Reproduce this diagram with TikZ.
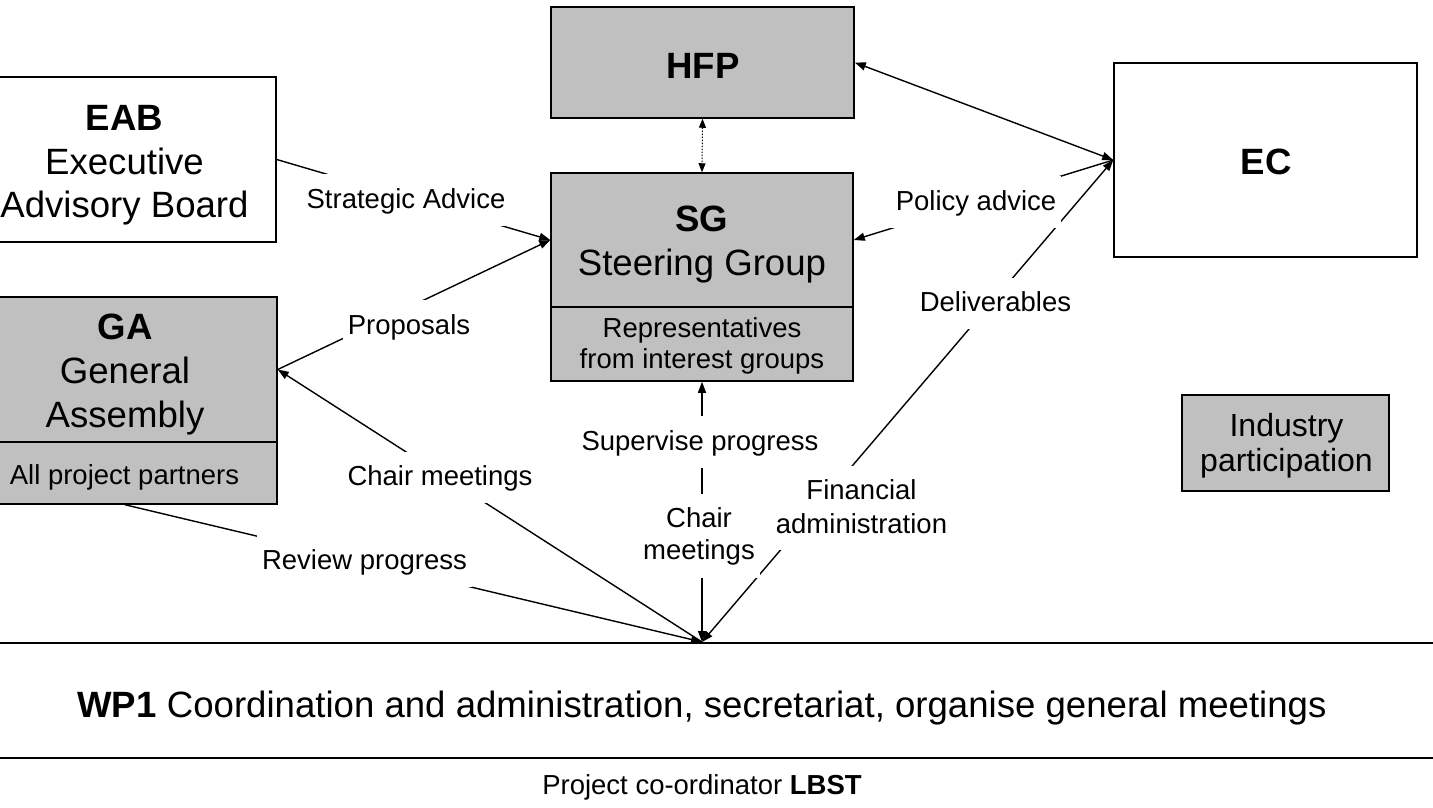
\documentclass[tikz,border=0pt]{standalone}
\usepackage{fontspec}
\setmainfont{Liberation Sans}
\usetikzlibrary{arrows.meta}
\definecolor{boxgray}{HTML}{C0C0C0}
\newcommand\fBig{\fontsize{36.6}{44}\selectfont}
\newcommand\fLbl{\fontsize{27.5}{32}\selectfont}
\newcommand\lstrut{\rule[-5pt]{0pt}{27pt}}
\begin{document}
\begin{tikzpicture}[x=1pt,y=-1pt,
  frame/.style={draw=black,line width=1.5pt,minimum width=303pt,inner sep=0pt},
  gframe/.style={frame,fill=boxgray},
  txt/.style={inner sep=0pt,align=center},
  lbl/.style={fill=white,inner xsep=5pt,inner ysep=12pt,align=center,font=\fLbl},
  conn/.style={line width=1.4pt},
  rulebar/.style={line width=2pt},
  >={Triangle[length=11pt,width=8pt]}
]
\useasboundingbox (0,0) rectangle (1433,807);
\clip (0,0) rectangle (1433,807);

% horizontal rules
\draw[rulebar] (0,643) -- (1433,643);
\draw[rulebar] (0,758) -- (1433,758);

% boxes
\node[frame, minimum height=165pt] (eab) at (124.5,159.5) {};
\node[gframe, minimum height=145pt, minimum width=304pt] (ga) at (125,369.5) {};
\node[gframe, minimum height=62pt, minimum width=304pt] (gal) at (125,473) {};
\node[gframe, minimum height=111pt] (hfp) at (702.5,62.5) {};
\node[gframe, minimum height=134pt, minimum width=302pt] (sg) at (702,240) {};
\node[gframe, minimum height=74pt, minimum width=302pt] (sgl) at (702,344) {};
\node[frame, minimum height=194pt] (ec) at (1265.5,160) {};
\node[gframe, minimum width=207pt, minimum height=96pt] (ind) at (1285.5,443) {};

% box texts
\node[txt,font=\fontsize{36.6}{43.5}\selectfont] (eabt) at (124.5,165.5) {\textbf{EAB}\\Executive\\Advisory Board};
\node[txt,font=\fBig] (gat) at (125,375) {\textbf{GA}\\General\\Assembly};
\node[txt,font=\fLbl,anchor=base] (galt) at (124.5,484.3) {All project partners};
\node[txt,font=\fBig] (sgt) at (702,245) {\textbf{SG}\\Steering Group};
\node[txt,font=\fontsize{27.5}{30.6}\selectfont] (sglt) at (702,346) {Representatives\\from interest groups};
\node[txt,font=\fBig,anchor=base] (hfpt) at (703,78.5) {\textbf{HFP}};
\node[txt,font=\fBig,anchor=base] (ect) at (1266,174) {\textbf{EC}};
\node[txt,font=\fontsize{32}{35.7}\selectfont] (indt) at (1286.5,445.6) {Industry\\participation};
\node[txt,font=\fBig,anchor=base] (wp1) at (702,717.3) {\textbf{WP1} Coordination and administration, secretariat, organise general meetings};
\node[txt,font=\fLbl,anchor=base] (coord) at (702,794) {Project co-ordinator \textbf{LBST}};

% connectors
\coordinate (P) at (702,642);
\draw[conn,->] (eab.east) -- (sg.west);
\draw[conn,->] (ga.east) -- (sg.west);
\draw[conn,<->] (hfp.east) -- (ec.west);
\draw[conn,->] (ec.west) -- (sg.east);
\draw[conn,<->,line width=1pt,dash pattern=on 1.5pt off 1.5pt,>={Triangle[length=9pt,width=7pt]}] (hfp.south) -- (sg.north);
\draw[conn,->] (P) -- (ga.east);
\draw[conn,->] (gal.south) -- (P);
\draw[conn,<->] (P) -- (sgl.south);
\draw[conn,<->] (P) -- (ec.west);

% connector labels
\node[lbl,anchor=base] (lsa) at (406,208.3) {\lstrut Strategic Advice};
\node[lbl,anchor=base] (lpa) at (976,210) {\lstrut Policy advice};
\node[lbl,anchor=base] (lpr) at (409,334) {\lstrut Proposals};
\node[lbl,anchor=base] (lcm) at (440,485.5) {\lstrut Chair meetings};
\node[lbl,anchor=base] (lrp) at (364.5,569) {\lstrut Review progress};
\node[lbl,anchor=base] (lsp) at (700,450) {\lstrut Supervise progress};
\node[lbl,font=\fontsize{27.5}{32.3}\selectfont] (lcm2) at (699,535.5) {\lstrut Chair\\meetings\lstrut};
\node[lbl,font=\fontsize{27.5}{33.3}\selectfont] (lfa) at (861.5,508) {\lstrut Financial\\administration\lstrut};
\node[lbl,anchor=base] (ldl) at (995.5,311.5) {\lstrut Deliverables};
\end{tikzpicture}
\end{document}
